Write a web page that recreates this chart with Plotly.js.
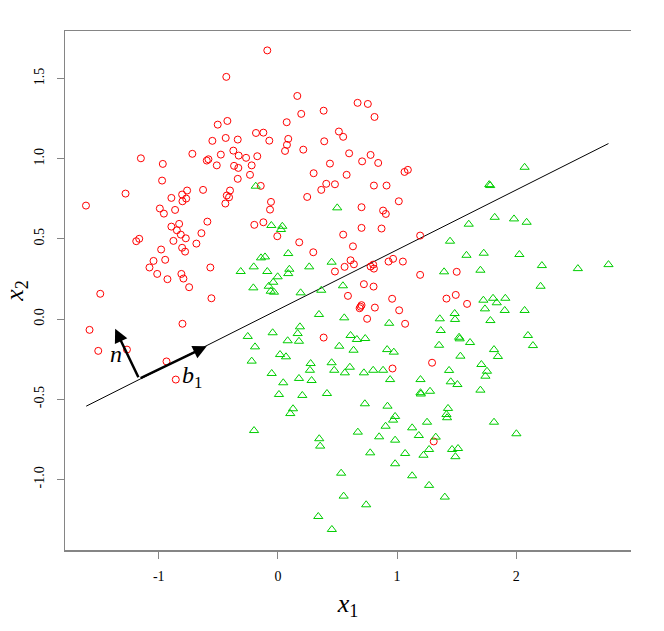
<!DOCTYPE html>
<html>
<head>
<meta charset="utf-8">
<script src="https://cdn.plot.ly/plotly-3.0.1.min.js"></script>
<style>html,body{margin:0;padding:0;background:#fff;}#chart{width:664px;height:631px;}</style>
</head>
<body>
<div id="chart"></div>
<script>
// Class 1 (red circles)
const redX = [
 -0.433,-0.424,-0.505,-0.438,-0.337,-0.550,-0.374,-0.718,-0.479,-0.329,-0.267,-1.150,-0.597,-0.583,-0.966,-0.513,-0.368,-0.332,-0.220,-0.234,-0.337,-0.972,-1.279,-0.762,-0.628,-0.402,-0.894,-0.804,-0.770,-0.801,-0.429,-0.410,
 -0.089,0.163,0.669,0.755,0.384,0.196,0.811,0.074,-0.184,-0.122,0.512,0.548,-0.072,0.087,0.076,0.060,0.389,0.213,-0.173,0.598,0.778,0.707,0.842,0.437,0.300,0.577,1.063,1.091,-0.144,0.406,0.479,0.364,0.806,0.912,0.246,-0.058,1.015,
 -1.611,-0.991,-0.957,-0.863,-0.441,-0.592,-0.894,-0.829,-0.848,-0.815,-0.773,-0.642,-1.189,-1.164,-0.877,-0.684,-0.980,-0.804,-0.779,-1.044,-0.946,-1.078,-0.567,-1.013,-0.810,-0.793,-0.927,-0.745,-1.491,-0.558,-0.801,-1.581,-1.508,-1.267,-0.935,
 -0.066,0.702,0.883,0.906,-0.198,-0.122,-0.005,0.702,0.870,0.548,1.194,0.179,0.630,0.297,0.610,0.638,0.560,0.479,0.778,0.800,0.806,0.929,0.967,1.049,1.194,0.722,0.803,0.588,0.959,0.702,0.694,0.686,0.814,1.018,0.749,1.068,0.384,1.294,0.962,
 1.501,1.415,1.493,1.588,-0.857,1.308
];
const redY = [
 1.511,1.236,1.213,1.130,1.120,1.112,1.051,1.031,1.026,1.020,1.006,1.003,0.989,0.997,0.968,0.959,0.956,0.943,0.959,0.900,0.875,0.864,0.783,0.802,0.806,0.802,0.756,0.777,0.752,0.735,0.771,0.760,
 1.676,1.392,1.349,1.342,1.300,1.280,1.261,1.228,1.161,1.163,1.170,1.137,1.113,1.124,1.087,1.049,1.109,1.057,1.016,1.034,1.024,0.984,0.974,0.970,0.910,0.900,0.918,0.931,0.831,0.844,0.841,0.806,0.833,0.833,0.762,0.731,0.735,
 0.708,0.690,0.658,0.681,0.721,0.608,0.577,0.594,0.554,0.527,0.504,0.536,0.486,0.501,0.488,0.471,0.434,0.445,0.421,0.363,0.370,0.322,0.322,0.282,0.282,0.253,0.249,0.199,0.158,0.130,-0.029,-0.067,-0.198,-0.190,-0.264,
 0.683,0.698,0.677,0.656,0.588,0.604,0.517,0.569,0.565,0.527,0.521,0.479,0.454,0.417,0.367,0.342,0.326,0.297,0.328,0.340,0.315,0.359,0.376,0.359,0.276,0.218,0.203,0.145,0.127,0.087,0.077,0.068,0.072,0.055,0.002,-0.029,-0.115,-0.272,-0.308,
 0.295,0.128,0.151,0.095,-0.377,-0.763
];
// Class 2 (green triangles)
const greenX = [
 -0.186,2.071,1.774,1.782,-0.312,-0.253,-0.220,
 0.498,-0.055,0.037,0.026,0.087,-0.142,-0.108,-0.203,0.263,0.451,-0.089,0.096,0.087,-0.002,-0.039,-0.077,-0.206,-0.060,-0.033,0.191,0.364,0.546,0.345,0.557,0.934,0.185,-0.044,0.166,0.177,0.082,-0.192,0.610,0.663,0.733,0.515,0.635,0.917,0.973,0.018,0.068,0.275,0.451,0.604,0.269,0.473,0.800,0.883,
 1.820,1.982,2.088,1.602,1.445,1.583,1.728,2.027,2.216,2.518,2.775,1.395,1.700,2.205,1.725,1.806,1.837,1.909,1.738,1.904,2.071,1.359,1.484,1.487,1.784,1.367,1.521,1.526,1.613,2.099,1.353,2.141,1.814,1.847,1.532,1.708,1.437,1.755,
 -0.052,0.562,0.722,0.045,0.177,0.283,0.009,0.205,0.412,0.942,1.197,1.197,1.200,1.277,0.730,0.920,0.127,0.104,0.984,0.967,1.252,-0.200,0.671,0.904,1.127,0.850,1.183,0.984,1.325,0.347,0.355,0.775,1.068,1.222,1.269,0.984,0.531,1.127,1.269,0.552,0.741,0.339,0.453,
 1.742,1.451,1.507,1.700,1.428,1.415,1.420,1.814,2.002,1.462,1.512,1.490,1.401
];
const greenY = [
 0.829,0.947,0.839,0.833,0.297,-0.108,-0.262,
 0.694,0.584,0.579,0.559,0.409,0.382,0.388,0.326,0.326,0.355,0.297,0.311,0.284,0.264,0.230,0.205,0.195,0.174,0.168,0.164,0.180,0.208,0.029,0.008,-0.026,-0.048,-0.085,-0.090,-0.138,-0.135,-0.173,-0.102,-0.127,-0.121,-0.169,-0.194,-0.190,-0.206,-0.221,-0.235,-0.277,-0.272,-0.300,-0.319,-0.319,-0.319,-0.319,
 0.635,0.625,0.604,0.592,0.486,0.398,0.411,0.403,0.334,0.315,0.340,0.295,0.305,0.205,0.118,0.130,0.102,0.130,0.064,0.054,0.054,0.002,0.035,-0.002,-0.009,-0.071,-0.113,-0.123,-0.146,-0.102,-0.163,-0.165,-0.190,-0.233,-0.231,-0.283,-0.320,-0.325,
 -0.339,-0.335,-0.335,-0.397,-0.370,-0.383,-0.470,-0.476,-0.464,-0.377,-0.377,-0.459,-0.467,-0.450,-0.528,-0.543,-0.559,-0.589,-0.607,-0.630,-0.643,-0.695,-0.705,-0.668,-0.678,-0.734,-0.726,-0.755,-0.736,-0.746,-0.792,-0.834,-0.838,-0.849,-0.813,-0.902,-0.961,-0.977,-1.037,-1.104,-1.158,-1.231,-1.312,
 -0.356,-0.391,-0.408,-0.443,-0.557,-0.595,-0.615,-0.643,-0.715,-0.813,-0.807,-0.858,-1.110
];
// Separating line endpoints
const lineX = [-1.609, 2.775];
const lineY = [-0.543, 1.095];
// Vectors: common origin, normal n tip, direction b1 tip
const origin = [-1.165, -0.372];
const nTip = [-1.366, -0.060];
const bTip = [-0.597, -0.169];
// Tick labels
const xTickVals = [-1, 0, 1, 2];
const xTickText = ['-1', '0', '1', '2'];
const yTickVals = [-1.0, -0.5, 0.0, 0.5, 1.0, 1.5];
const yTickText = ['-1.0', '-0.5', '0.0', '0.5', '1.0', '1.5'];

const serif = '"Liberation Serif", "DejaVu Serif", serif';
const axisGrey = '#858585';

const traces = [
  {x: lineX, y: lineY, mode: 'lines', type: 'scatter', line: {color: '#000', width: 1}, hoverinfo: 'skip'},
  {x: redX, y: redY, mode: 'markers', type: 'scatter',
   marker: {symbol: 'circle-open', size: 7, color: '#FF0000', line: {width: 1, color: '#FF0000'}}},
  {x: greenX, y: greenY, mode: 'markers', type: 'scatter',
   marker: {symbol: 'triangle-up-open', size: 8, color: '#00CD00', line: {width: 1, color: '#00CD00'}}}
];

const layout = {
  width: 664, height: 631,
  margin: {l: 65, r: 33, t: 31, b: 81},
  paper_bgcolor: '#fff', plot_bgcolor: '#fff',
  showlegend: false,
  xaxis: {
    range: [-1.787, 2.964], showgrid: false, zeroline: false,
    showline: true, mirror: true, linecolor: axisGrey, linewidth: 1.5,
    ticks: 'outside', ticklen: 7, tickcolor: axisGrey, tickwidth: 1,
    tickvals: xTickVals, ticktext: xTickText, ticklabelstandoff: 6,
    tickfont: {family: serif, size: 14, color: '#000'},
    title: {text: '<i>x</i><sub>1</sub>', font: {family: serif, size: 26, color: '#000'}, standoff: 10}
  },
  yaxis: {
    range: [-1.440, 1.797], showgrid: false, zeroline: false,
    showline: true, mirror: false, linecolor: axisGrey, linewidth: 1.5,
    ticks: 'outside', ticklen: 7, tickcolor: axisGrey, tickwidth: 1,
    tickvals: yTickVals, ticktext: yTickText, tickangle: -90, ticklabelstandoff: 7,
    tickfont: {family: serif, size: 14, color: '#000'},
    title: {text: '<i>x</i><sub>2</sub>', font: {family: serif, size: 26, color: '#000'}, standoff: 8}
  },
  annotations: [
    {x: nTip[0], y: nTip[1], ax: origin[0], ay: origin[1], xref: 'x', yref: 'y', axref: 'x', ayref: 'y',
     showarrow: true, arrowhead: 2, arrowsize: 1.1, arrowwidth: 2.5, arrowcolor: '#000', text: ''},
    {x: bTip[0], y: bTip[1], ax: origin[0], ay: origin[1], xref: 'x', yref: 'y', axref: 'x', ayref: 'y',
     showarrow: true, arrowhead: 2, arrowsize: 1.1, arrowwidth: 2.5, arrowcolor: '#000', text: ''},
    {x: -1.357, y: -0.215, xref: 'x', yref: 'y', showarrow: false, text: '<i>n</i>',
     font: {family: serif, size: 24, color: '#000'}},
    {x: -0.720, y: -0.358, xref: 'x', yref: 'y', showarrow: false, text: '<i>b</i><sub>1</sub>',
     font: {family: serif, size: 24, color: '#000'}}
  ]
};

Plotly.newPlot('chart', traces, layout, {displayModeBar: false, staticPlot: true});
</script>
</body>
</html>
